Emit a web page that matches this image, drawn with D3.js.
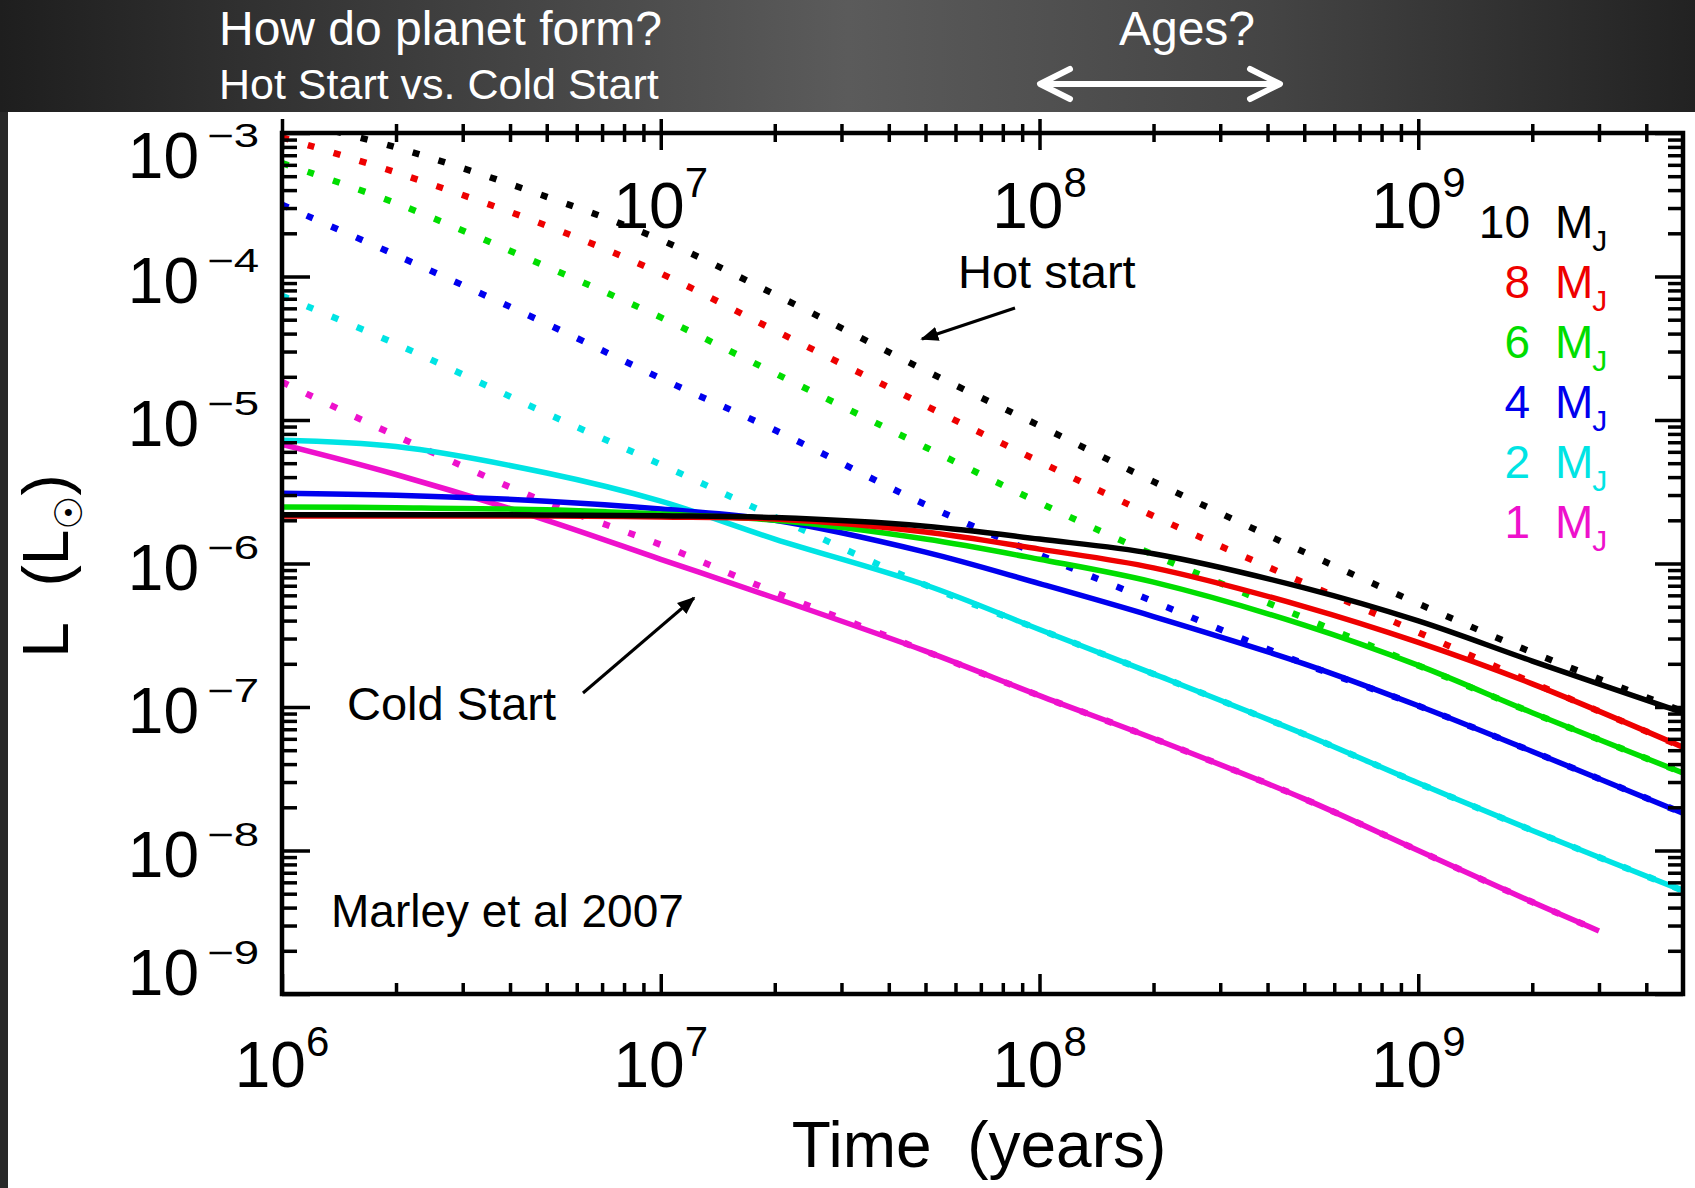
<!DOCTYPE html>
<html>
<head>
<meta charset="utf-8">
<script src="https://cdn.jsdelivr.net/npm/d3@7"></script>
<style>
  html, body { margin: 0; padding: 0; background: #262626; }
  svg { display: block; }
  text { font-family: "Liberation Sans", Arial, Helvetica, sans-serif; }
</style>
</head>
<body>
<svg id="chart" width="1695" height="1188"></svg>
<script>
// Sampled ages (years)
const ages    = [1e6, 2e6, 5e6, 1e7, 2e7, 5e7, 1e8, 2e8, 5e8, 1e9, 2e9, 5e9];
const ages1MJ = [1e6, 2e6, 5e6, 1e7, 2e7, 5e7, 1e8, 2e8, 5e8, 1e9, 2e9, 3e9];

// Hot start luminosities (L_sun), dotted
const hot10 = [1.26e-3, 7.94e-4, 3.59e-4, 1.80e-4, 7.50e-5, 2.21e-5, 9.12e-6, 3.72e-6, 1.20e-6, 5.25e-7, 2.40e-7, 9.33e-8];
const hot8  = [9.33e-4, 5.31e-4, 2.26e-4, 1.05e-4, 4.21e-5, 1.26e-5, 5.13e-6, 2.14e-6, 7.33e-7, 3.31e-7, 1.48e-7, 5.25e-8];
const hot6  = [6.17e-4, 3.24e-4, 1.17e-4, 5.19e-5, 2.12e-5, 6.46e-6, 2.65e-6, 1.15e-6, 4.17e-7, 1.95e-7, 9.12e-8, 3.47e-8];
const hot4  = [3.16e-4, 1.41e-4, 4.68e-5, 1.95e-5, 8.51e-6, 2.57e-6, 1.15e-6, 5.43e-7, 2.00e-7, 1.02e-7, 4.90e-8, 1.82e-8];
const hot2  = [7.33e-5, 3.39e-5, 1.11e-5, 4.90e-6, 2.11e-6, 7.08e-7, 3.47e-7, 1.70e-7, 6.46e-8, 2.95e-8, 1.38e-8, 5.25e-9];
const hot1  = [1.84e-5, 7.76e-6, 2.66e-6, 1.35e-6, 6.31e-7, 2.45e-7, 1.20e-7, 6.03e-8, 2.29e-8, 1.00e-8, 4.37e-9, 2.75e-9];

// Cold start luminosities (L_sun), solid
const cold10 = [2.19e-6, 2.19e-6, 2.18e-6, 2.15e-6, 2.09e-6, 1.82e-6, 1.48e-6, 1.17e-6, 6.76e-7, 3.98e-7, 2.09e-7, 9.12e-8];
const cold8  = [2.14e-6, 2.14e-6, 2.14e-6, 2.11e-6, 2.04e-6, 1.66e-6, 1.26e-6, 9.33e-7, 5.01e-7, 2.82e-7, 1.45e-7, 5.25e-8];
const cold6  = [2.48e-6, 2.45e-6, 2.37e-6, 2.21e-6, 2.00e-6, 1.48e-6, 1.07e-6, 7.41e-7, 3.72e-7, 1.95e-7, 9.12e-8, 3.47e-8];
const cold4  = [3.09e-6, 2.99e-6, 2.72e-6, 2.40e-6, 2.00e-6, 1.20e-6, 7.24e-7, 4.27e-7, 2.00e-7, 1.02e-7, 4.90e-8, 1.82e-8];
const cold2  = [7.24e-6, 6.53e-6, 4.27e-6, 2.72e-6, 1.48e-6, 7.08e-7, 3.47e-7, 1.70e-7, 6.46e-8, 2.95e-8, 1.38e-8, 5.25e-9];
const cold1  = [6.76e-6, 4.17e-6, 2.00e-6, 1.07e-6, 5.75e-7, 2.45e-7, 1.20e-7, 6.03e-8, 2.29e-8, 1.00e-8, 4.37e-9, 2.75e-9];

// Planet masses (Jupiter masses) and their colours
const masses     = ["10", "8", "6", "4", "2", "1"];
const massColors = ["#000000", "#ee0000", "#00dd00", "#0000ee", "#00e4e4", "#ee11cc"];

// Axis tick labels (powers of ten)
const xBottomExps = [6, 7, 8, 9];
const xTopExps    = [7, 8, 9];
const yExps       = [-3, -4, -5, -6, -7, -8, -9];

const series = [
  { mass: "10", color: massColors[0], t: ages,    hot: hot10, cold: cold10 },
  { mass: "8",  color: massColors[1], t: ages,    hot: hot8,  cold: cold8  },
  { mass: "6",  color: massColors[2], t: ages,    hot: hot6,  cold: cold6  },
  { mass: "4",  color: massColors[3], t: ages,    hot: hot4,  cold: cold4  },
  { mass: "2",  color: massColors[4], t: ages,    hot: hot2,  cold: cold2  },
  { mass: "1",  color: massColors[5], t: ages1MJ, hot: hot1,  cold: cold1  }
];

const W = 1695, H = 1188;
const plot = { left: 282, right: 1683, top: 133, bottom: 994 };

const svg = d3.select("#chart");
const defs = svg.append("defs");

// ---- backdrop: dark slide header and white figure area
const band = defs.append("linearGradient").attr("id", "band")
  .attr("x1", "0").attr("x2", "1").attr("y1", "0").attr("y2", "0");
[[0, "#1e1e1e"], [0.22, "#3a3a3a"], [0.5, "#5b5b5b"], [0.75, "#444444"], [1, "#222222"]]
  .forEach(([o, c]) => band.append("stop").attr("offset", o).attr("stop-color", c));

svg.append("rect").attr("width", W).attr("height", H).attr("fill", "#282828");
svg.append("rect").attr("x", 8).attr("y", 112).attr("width", W - 8).attr("height", H - 112).attr("fill", "#ffffff");
svg.append("rect").attr("width", W).attr("height", 112).attr("fill", "url(#band)");

// ---- header text
const hdr = svg.append("g").attr("fill", "#ffffff");
hdr.append("text").attr("x", 219).attr("y", 45).attr("font-size", 48).text("How do planet form?");
hdr.append("text").attr("x", 219).attr("y", 99).attr("font-size", 43).text("Hot Start vs. Cold Start");
hdr.append("text").attr("x", 1187).attr("y", 45).attr("font-size", 48).attr("text-anchor", "middle").text("Ages?");

// double-headed age arrow
const ay = 84, ax0 = 1040, ax1 = 1280;
const arrowG = hdr.append("g").attr("stroke", "#ffffff").attr("stroke-width", 6)
  .attr("fill", "none").attr("stroke-linecap", "round").attr("stroke-linejoin", "round");
arrowG.append("line").attr("x1", ax0 + 2).attr("y1", ay).attr("x2", ax1 - 2).attr("y2", ay);
arrowG.append("polyline").attr("points", `${ax0 + 30},${ay - 15} ${ax0},${ay} ${ax0 + 30},${ay + 15}`);
arrowG.append("polyline").attr("points", `${ax1 - 30},${ay - 15} ${ax1},${ay} ${ax1 - 30},${ay + 15}`);

// ---- scales
const x = d3.scaleLog().domain([1e6, 5e9]).range([plot.left, plot.right]);
const y = d3.scaleLog().domain([1e-9, 1e-3]).range([plot.bottom, plot.top]);

defs.append("clipPath").attr("id", "plotClip").append("rect")
  .attr("x", plot.left).attr("y", plot.top)
  .attr("width", plot.right - plot.left).attr("height", plot.bottom - plot.top);

// ---- curves
const line = d3.line()
  .x(d => x(d[0]))
  .y(d => y(d[1]))
  .curve(d3.curveCatmullRom.alpha(0.5));

const curves = svg.append("g").attr("clip-path", "url(#plotClip)").attr("fill", "none");
// lightest planets first so the heavier ones sit on top
series.slice().reverse().forEach(s => {
  const coldPts = s.t.map((t, i) => [t, s.cold[i]]);
  const hotPts  = s.t.map((t, i) => [t, s.hot[i]]);
  curves.append("path").attr("d", line(coldPts))
    .attr("stroke", s.color).attr("stroke-width", 5.5).attr("stroke-linejoin", "round");
  curves.append("path").attr("d", line(hotPts))
    .attr("stroke", s.color).attr("stroke-width", 6.5)
    .attr("stroke-dasharray", "7 20");
});

// ---- axes (log ticks)
const xMajor = [1e6, 1e7, 1e8, 1e9];
const xMinor = [];
xMajor.forEach(d => { for (let k = 2; k <= 9; k++) if (k * d < 5e9) xMinor.push(k * d); });
const yMajor = [1e-9, 1e-8, 1e-7, 1e-6, 1e-5, 1e-4, 1e-3];
const yMinor = [];
yMajor.slice(0, 6).forEach(d => { for (let k = 2; k <= 9; k++) yMinor.push(k * d); });

function styleTicks(g) {
  g.select(".domain").remove();
  g.selectAll(".tick line").attr("stroke", "#000").attr("stroke-width", 3.5);
  g.selectAll(".tick text").remove();
}

const axes = svg.append("g");
// bottom: ticks point inward
axes.append("g").attr("transform", `translate(0,${plot.bottom})`)
  .call(d3.axisBottom(x).tickValues(xMinor).tickSizeInner(-11).tickSizeOuter(0)).call(styleTicks);
axes.append("g").attr("transform", `translate(0,${plot.bottom})`)
  .call(d3.axisBottom(x).tickValues(xMajor).tickSizeInner(-20).tickSizeOuter(0)).call(styleTicks);
// top: ticks straddle the axis line
axes.append("g").attr("transform", `translate(0,${plot.top})`)
  .call(d3.axisTop(x).tickValues(xMinor).tickSizeOuter(0)).call(styleTicks)
  .selectAll(".tick line").attr("y1", 9).attr("y2", -9);
axes.append("g").attr("transform", `translate(0,${plot.top})`)
  .call(d3.axisTop(x).tickValues(xMajor).tickSizeOuter(0)).call(styleTicks)
  .selectAll(".tick line").attr("y1", 17).attr("y2", -14);
// left and right: ticks point inward
axes.append("g").attr("transform", `translate(${plot.left},0)`)
  .call(d3.axisLeft(y).tickValues(yMinor).tickSizeInner(-15).tickSizeOuter(0)).call(styleTicks);
axes.append("g").attr("transform", `translate(${plot.left},0)`)
  .call(d3.axisLeft(y).tickValues(yMajor).tickSizeInner(-28).tickSizeOuter(0)).call(styleTicks);
axes.append("g").attr("transform", `translate(${plot.right},0)`)
  .call(d3.axisRight(y).tickValues(yMinor).tickSizeInner(-15).tickSizeOuter(0)).call(styleTicks);
axes.append("g").attr("transform", `translate(${plot.right},0)`)
  .call(d3.axisRight(y).tickValues(yMajor).tickSizeInner(-28).tickSizeOuter(0)).call(styleTicks);

// frame
axes.append("rect")
  .attr("x", plot.left).attr("y", plot.top)
  .attr("width", plot.right - plot.left).attr("height", plot.bottom - plot.top)
  .attr("fill", "none").attr("stroke", "#000").attr("stroke-width", 4.5);

// ---- tick labels
const labels = svg.append("g").attr("fill", "#000");
function powerLabel(px, baseline, exp) {
  const t = labels.append("text").attr("x", px).attr("y", baseline)
    .attr("text-anchor", "middle").attr("font-size", 64);
  t.append("tspan").text("10");
  t.append("tspan").attr("dy", -31).attr("font-size", 42).text(exp);
}
xBottomExps.forEach(e => powerLabel(x(Math.pow(10, e)), 1087, e));
xTopExps.forEach(e => powerLabel(x(Math.pow(10, e)), 228, e));

yExps.forEach(e => {
  const base = Math.min(Math.max(y(Math.pow(10, e)) + 26, 178), 995);
  labels.append("text").attr("x", 199).attr("y", base)
    .attr("text-anchor", "end").attr("font-size", 64).text("10");
  labels.append("text").attr("x", 207).attr("y", base - 31)
    .attr("font-size", 33).attr("textLength", 52).attr("lengthAdjust", "spacingAndGlyphs")
    .text("\u2212" + Math.abs(e));
});

// ---- axis titles
labels.append("text").attr("x", 979).attr("y", 1167).attr("text-anchor", "middle")
  .attr("font-size", 64).text("Time\u00a0 (years)");
const yt = labels.append("text").attr("transform", "translate(68,566) rotate(-90)")
  .attr("text-anchor", "middle").attr("font-size", 64);
yt.append("tspan").text("L\u00a0 (L");
yt.append("tspan").attr("dy", 14).attr("font-size", 38)
  .style("font-family", "'DejaVu Sans', sans-serif").text("\u2609");
yt.append("tspan").attr("dy", -14).text(")");

// ---- legend
const legend = svg.append("g");
masses.forEach((m, i) => {
  const by = 238 + i * 60;
  legend.append("text").attr("x", 1530).attr("y", by).attr("text-anchor", "end")
    .attr("font-size", 46).attr("fill", massColors[i]).text(m);
  const lt = legend.append("text").attr("x", 1555).attr("y", by)
    .attr("font-size", 46).attr("fill", massColors[i]);
  lt.append("tspan").text("M");
  lt.append("tspan").attr("dy", 13).attr("dx", -1).attr("font-size", 30).text("J");
});

// ---- annotations
defs.append("marker").attr("id", "head").attr("viewBox", "0 0 10 10")
  .attr("refX", 9).attr("refY", 5).attr("markerWidth", 6).attr("markerHeight", 6)
  .attr("markerUnits", "strokeWidth").attr("orient", "auto")
  .append("path").attr("d", "M0,1 L10,5 L0,9 Z").attr("fill", "#000");

const notes = svg.append("g").attr("fill", "#000");
notes.append("text").attr("x", 958).attr("y", 288).attr("font-size", 47).text("Hot start");
notes.append("line").attr("x1", 1015).attr("y1", 308).attr("x2", 922).attr("y2", 339)
  .attr("stroke", "#000").attr("stroke-width", 3).attr("marker-end", "url(#head)");
notes.append("text").attr("x", 347).attr("y", 720).attr("font-size", 47).text("Cold Start");
notes.append("line").attr("x1", 583).attr("y1", 693).attr("x2", 694).attr("y2", 598)
  .attr("stroke", "#000").attr("stroke-width", 3).attr("marker-end", "url(#head)");
notes.append("text").attr("x", 331).attr("y", 927).attr("font-size", 46).text("Marley et al 2007");
</script>
</body>
</html>
